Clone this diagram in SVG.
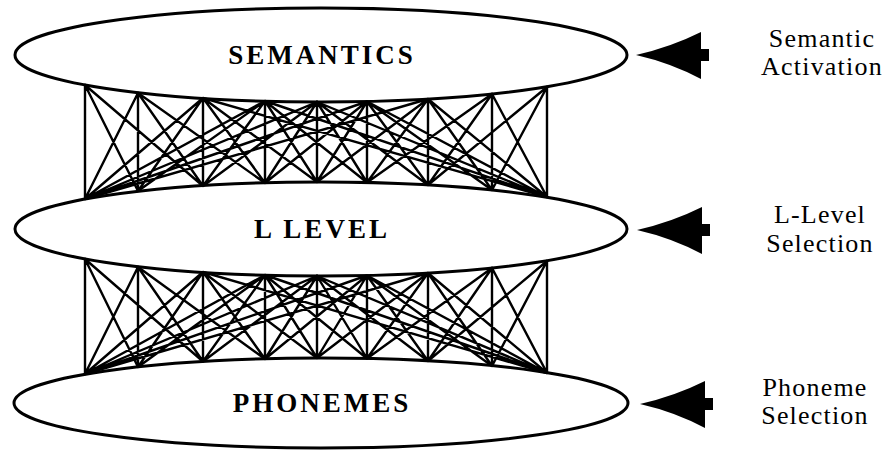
<svg xmlns="http://www.w3.org/2000/svg" width="892" height="450" viewBox="0 0 892 450">
<style>
.layer{fill:#fff;stroke:#000;stroke-width:3}
.lat{fill:none;stroke:#000;stroke-width:2.4;stroke-linecap:round}
.name{font-family:"Liberation Serif","Times New Roman",serif;font-weight:bold;font-size:27px;letter-spacing:3px;text-anchor:middle;fill:#000}
.side{font-family:"Liberation Serif","Times New Roman",serif;font-size:26px;letter-spacing:1.2px;text-anchor:middle;fill:#000}
</style>
<defs>
<path id="arrow" d="M0 0Q35 -8 65 -23L65 -6L73 -6L73 6L65 6L65 24Q35 8 0 0Z" fill="#000"/>
</defs>
<rect width="892" height="450" fill="#fff"/>
<g id="semantics">
<ellipse class="layer" cx="321" cy="55" rx="306" ry="47"/>
<text class="name" x="322" y="64">SEMANTICS</text>
</g>
<g id="llevel">
<ellipse class="layer" cx="321" cy="229" rx="306" ry="47"/>
<text class="name" x="322" y="238">L LEVEL</text>
</g>
<g id="phonemes">
<ellipse class="layer" cx="321" cy="403" rx="307" ry="45"/>
<text class="name" x="322" y="412">PHONEMES</text>
</g>
<g id="connectors">
<path class="lat" d="M85 85L85 199M85 85L138 191M85 85L203 186
M138 93L85 199M138 93L138 191M138 93L203 186M138 93L265 183
M203 98L85 199M203 98L138 191M203 98L203 186M203 98L265 183M203 98L317 182M203 98L547 197
M265 101L138 191M265 101L203 186M265 101L265 183M265 101L317 182M265 101L367 182.5M265 101L85 199M265 101L547 197
M317 102L203 186M317 102L265 183M317 102L317 182M317 102L367 182.5M317 102L428 185M317 102L85 199M317 102L547 197
M367 101.5L265 183M367 101.5L317 182M367 101.5L367 182.5M367 101.5L428 185M367 101.5L492 190M367 101.5L85 199M367 101.5L547 197
M428 99L317 182M428 99L367 182.5M428 99L428 185M428 99L492 190M428 99L547 197M428 99L85 199
M492 94L367 182.5M492 94L428 185M492 94L492 190M492 94L547 197
M547 87L428 185M547 87L492 190M547 87L547 197"/>
<path class="lat" d="M85 259L85 374M85 259L138 367M85 259L203 361.5
M138 267L85 374M138 267L138 367M138 267L203 361.5M138 267L265 359
M203 272L85 374M203 272L138 367M203 272L203 361.5M203 272L265 359M203 272L317 358M203 272L547 373
M265 275L138 367M265 275L203 361.5M265 275L265 359M265 275L317 358M265 275L367 358.5M265 275L85 374M265 275L547 373
M317 276L203 361.5M317 276L265 359M317 276L317 358M317 276L367 358.5M317 276L428 361M317 276L85 374M317 276L547 373
M367 275.5L265 359M367 275.5L317 358M367 275.5L367 358.5M367 275.5L428 361M367 275.5L492 366M367 275.5L85 374M367 275.5L547 373
M428 273L317 358M428 273L367 358.5M428 273L428 361M428 273L492 366M428 273L547 373M428 273L85 374
M492 268L367 358.5M492 268L428 361M492 268L492 366M492 268L547 373
M547 261L428 361M547 261L492 366M547 261L547 373"/>
</g>
<g id="semantic-activation">
<use href="#arrow" x="636" y="55"/>
<text class="side" x="822" y="47">Semantic</text>
<text class="side" x="822" y="75">Activation</text>
</g>
<g id="llevel-selection">
<use href="#arrow" x="637" y="230"/>
<text class="side" x="820" y="223">L-Level</text>
<text class="side" x="820" y="252">Selection</text>
</g>
<g id="phoneme-selection">
<use href="#arrow" x="640" y="404"/>
<text class="side" x="815" y="396">Phoneme</text>
<text class="side" x="815" y="424">Selection</text>
</g>
</svg>
